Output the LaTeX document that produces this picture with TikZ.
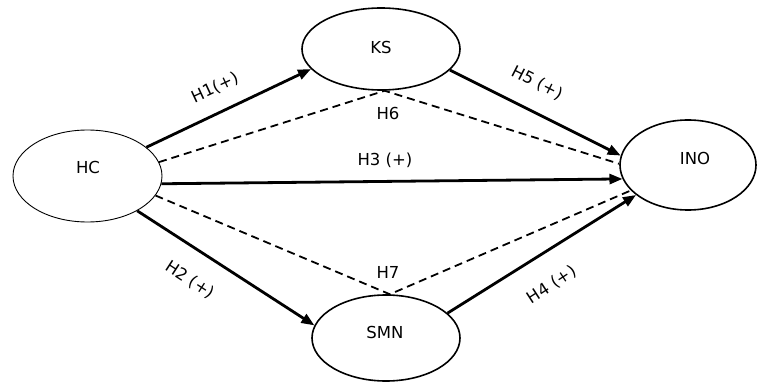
\documentclass[tikz,border=0pt]{standalone}
\usepackage{fontspec}
\setmainfont{DejaVu Sans}
\usetikzlibrary{arrows.meta,shapes.geometric}
\begin{document}
\begin{tikzpicture}[x=1pt,y=-1pt,
  var/.style={draw,ellipse,inner sep=0pt,line width=1.6pt},
  lbl/.style={font=\fontsize{16.5}{19}\selectfont,inner sep=0pt},
  path arrow/.style={line width=2.8pt,-{Triangle[length=13pt,width=10pt]}},
  ind/.style={line width=1.8pt,dash pattern=on 8pt off 5pt},
]
\useasboundingbox (0,0) rectangle (758,385);
\node[var,line width=0.9pt,minimum width=149pt,minimum height=92pt] (HC) at (87.5,176) {};
\node[lbl] (tHC) at (88,167) {HC};
\node[var,minimum width=158pt,minimum height=82pt] (KS) at (381,49) {};
\node[lbl] (tKS) at (381,47) {KS};
\node[var,minimum width=136pt,minimum height=90pt] (INO) at (688,165) {};
\node[lbl] (tINO) at (695,158) {INO};
\node[var,minimum width=148pt,minimum height=86pt] (SMN) at (386,338) {};
\node[lbl] (tSMN) at (385,332) {SMN};
% indirect paths
\draw[ind] (HC.11) -- (KS.-85) -- (INO.179);
\draw[ind] (HC.-16) -- (SMN.85) -- (INO.204);
% direct paths
\draw[path arrow] (HC.26) -- (KS.196);
\draw[path arrow] (KS.-17) -- (INO.172);
\draw[path arrow] (HC.-6) -- (INO.192);
\draw[path arrow] (HC.-35) -- (SMN.170);
\draw[path arrow] (SMN.22) -- (INO.210);
% labels
\node[lbl,rotate=25] (l1) at (215,88) {H1(+)};
\node[lbl] (l6) at (388,113) {H6};
\node[lbl] (l3) at (385,160) {H3 (+)};
\node[lbl,rotate=-27] (l5) at (537,83) {H5 (+)};
\node[lbl,rotate=-33] (l2) at (190,280) {H2 (+)};
\node[lbl] (l7) at (388,272) {H7};
\node[lbl,rotate=33] (l4) at (552,285) {H4 (+)};
\end{tikzpicture}
\end{document}
